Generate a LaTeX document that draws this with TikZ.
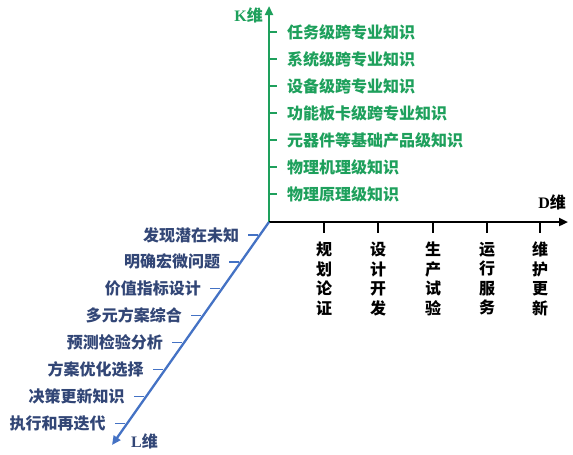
\documentclass[tikz,border=0pt]{standalone}
\usepackage{fontspec}
\setmainfont{Liberation Serif}
\newfontfamily\cjk{Noto Sans CJK SC}
\usetikzlibrary{arrows.meta}
\definecolor{kgreen}{RGB}{30,160,92}
\definecolor{lblue}{RGB}{68,114,196}
\definecolor{ltext}{RGB}{50,70,118}
\tikzset{
  lbl/.style={inner sep=0pt, font=\cjk\bfseries\fontsize{16}{19.5}\selectfont},
  ktick/.style={kgreen, line width=1.3},
  ltick/.style={lblue, line width=1.3},
  dtick/.style={black, line width=1.3},
  axisarrow/.style={line width=2.3, -{Triangle[length=9,width=8]}},
}
\begin{document}
\begin{tikzpicture}[x=1pt,y=-1pt]
\useasboundingbox (0,0) rectangle (573,455);
\coordinate (O) at (269,222);
\coordinate (Ktop) at (269,6);
\coordinate (Dend) at (568,222);
\coordinate (Lend) at (112,445);
% K axis
\draw[kgreen, axisarrow] (O) -- (Ktop);
\node[lbl, kgreen, anchor=east] (klab) at (263,15) {{\rmfamily\bfseries K}维};
\foreach \t [count=\i from 0] in {任务级跨专业知识,系统级跨专业知识,设备级跨专业知识,功能板卡级跨专业知识,元器件等基础产品级知识,物理机理级知识,物理原理级知识}{
  \coordinate (k\i) at (269,{32+27*\i});
  \draw[ktick] (k\i) -- ++(8,0) coordinate (ke\i);
  \node[lbl, kgreen, anchor=west] (kt\i) at ([xshift=10]ke\i) {\t};
}
% D axis
\draw[black, axisarrow] (O) -- (Dend);
\node[lbl, anchor=east] (dlab) at (566,202) {{\rmfamily\bfseries D}维};
\foreach \t/\x [count=\i] in {规\\划\\论\\证/324,设\\计\\开\\发/378,生\\产\\试\\验/433,运\\行\\服\\务/487,维\\护\\更\\新/540}{
  \coordinate (d\i) at (\x,222);
  \draw[dtick] (d\i) -- ++(0,11) coordinate (de\i);
  \node[lbl, anchor=north, align=center] (dt\i) at ([yshift=-9]de\i) {\t};
}
% L axis
\draw[lblue, axisarrow] (O) -- (Lend);
\node[lbl, ltext, anchor=west] (llab) at (131,441) {{\rmfamily\bfseries L}维};
\foreach \t [count=\i from 0] in {发现潜在未知,明确宏微问题,价值指标设计,多元方案综合,预测检验分析,方案优化选择,决策更新知识,执行和再迭代}{
  \pgfmathsetmacro{\yy}{235+26.9*\i}
  \pgfmathsetmacro{\xx}{269-(\yy-222)*0.709-1.5}
  \coordinate (l\i) at (\xx,\yy);
  \draw[ltick] (l\i) -- ++(-10,0) coordinate (le\i);
  \node[lbl, ltext, anchor=east] (lt\i) at ([xshift=-9]le\i) {\t};
}
\end{tikzpicture}
\end{document}
